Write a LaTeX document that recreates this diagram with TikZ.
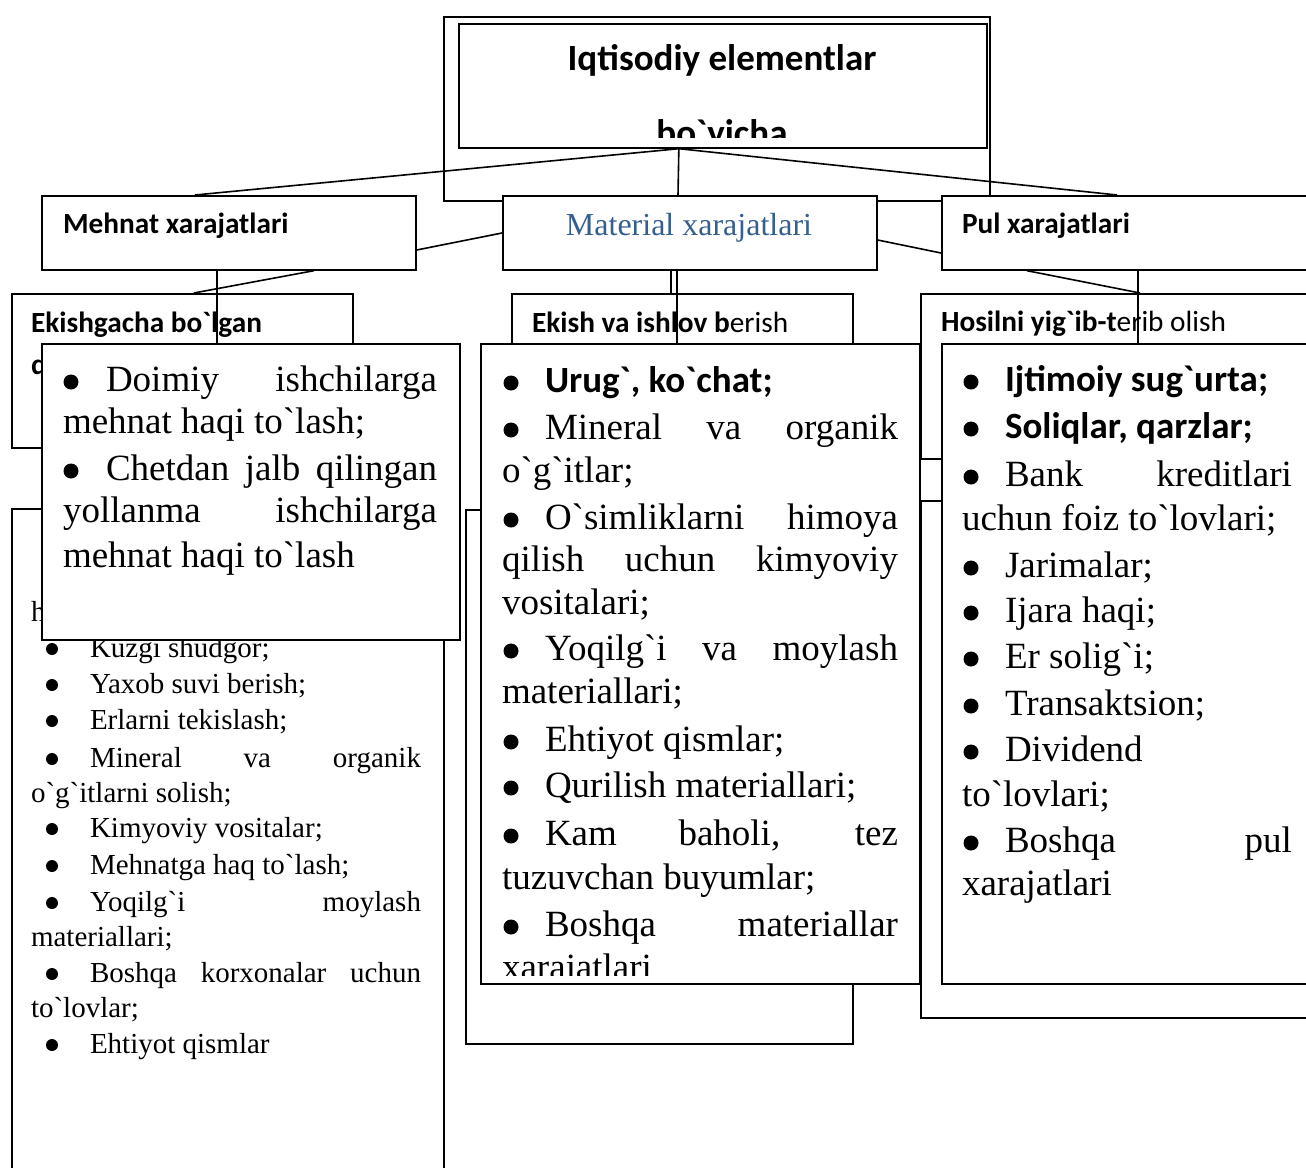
\documentclass[tikz,border=0pt]{standalone}
\usepackage{fontspec}
\newfontfamily\ser{Liberation Serif}
\newfontfamily\calib{Carlito}
\definecolor{matblue}{RGB}{54,95,145}
\newcommand\bx[5]{\node[box,minimum width=#4pt,minimum height=#5pt] (#1) at (#2,#3) {};}
\newcommand\tx[4]{\node[txt] (#1) at (#2,#3) {#4};}
\newcommand\bu[3]{\node[bigdot] (#1) at (#2,#3-9) {};}
\newcommand\bs[3]{\node[smalldot] (#1) at (#2,#3-8) {};}
\tikzset{
  box/.style={draw, line width=1.7pt, fill=white, inner sep=0pt, anchor=north west},
  txt/.style={anchor=base west, inner sep=0pt, outer sep=0pt},
  bigdot/.style={circle, fill=black, inner sep=0pt, minimum size=15pt},
  smalldot/.style={circle, fill=black, inner sep=0pt, minimum size=12pt},
  conn/.style={line width=1.6pt},
  sbig/.style={font=\ser\fontsize{37}{44}\selectfont},
  ssmall/.style={font=\ser\fontsize{29}{36}\selectfont},
  hbold/.style={font=\calib\bfseries\fontsize{29.3}{34}\selectfont},
}
\begin{document}
\begin{tikzpicture}[x=1pt,y=-1pt]
\useasboundingbox (0,0) rectangle (1306,1167);
\clip (0,0) rectangle (1306,1167);
\fill[white] (0,0) rectangle (1306,1167);
% top boxes
\bx{outer}{443}{16}{546}{184}
\bx{title}{458}{23}{528}{124}
\begin{scope}
\clip (458,23) rectangle (986,137);
\node[anchor=base, inner sep=0pt, font=\calib\bfseries\fontsize{37}{44}\selectfont] (t1) at (722,70) {Iqtisodiy elementlar};
\node[anchor=base, inner sep=0pt, font=\calib\bfseries\fontsize{37}{44}\selectfont] (t2) at (722,145) {bo`yicha};
\end{scope}
\coordinate (hub) at ([xshift=-44pt]title.south);
\draw[conn] (hub) -- (195,195) coordinate (mehnatTop);
\draw[conn] (hub) -- (678,195) coordinate (materialTop);
\draw[conn] (hub) -- (1117,195) coordinate (pulTop);
% level 2
\bx{mehnat}{41}{195}{374}{74}
\bx{material}{502}{195}{374}{74}
\bx{pul}{941}{195}{420}{74}
\node[txt,hbold] (mehnatT) at (63,233) {Mehnat xarajatlari};
\node[anchor=base, inner sep=0pt, font=\ser\fontsize{32}{38}\selectfont, text=matblue] (materialT) at (689,235) {Material xarajatlari};
\node[txt,hbold] (pulT) at (962,233) {Pul xarajatlari};
\draw[conn] (mehnat.east |- 0,250) -- (material.west |- 0,233);
\draw[conn] (material.east |- 0,240) -- (pul.west |- 0,253);
% ---------- left column
\bx{ekishgacha}{11}{293}{341}{154}
\node[txt,hbold] (ekgT) at (31,332) {Ekishgacha bo`lgan};
\node[txt,hbold] (ekgT2) at (31,374) {d};
\bx{lowleft}{11}{508}{432}{700}
\begin{scope}[every node/.append style={ssmall}]
\tx{llh}{31}{621}{h}
\bs{lb1}{52}{657}\tx{l1}{90}{657}{Kuzgi shudgor;}
\bs{lb2}{52}{693}\tx{l2}{90}{693}{Yaxob suvi berish;}
\bs{lb3}{52}{729}\tx{l3}{90}{729}{Erlarni tekislash;}
\bs{lb4}{52}{767}\tx{l4}{90}{767}{\makebox[331pt][s]{Mineral va organik}}
\tx{l5}{31}{802}{o`g`itlarni solish;}
\bs{lb6}{52}{837}\tx{l6}{90}{837}{Kimyoviy vositalar;}
\bs{lb7}{52}{874}\tx{l7}{90}{874}{Mehnatga haq to`lash;}
\bs{lb8}{52}{911}\tx{l8}{90}{911}{\makebox[331pt][s]{Yoqilg`i moylash}}
\tx{l9}{31}{946}{materiallari;}
\bs{lb10}{52}{982}\tx{l10}{90}{982}{\makebox[331pt][s]{Boshqa korxonalar uchun}}
\tx{l11}{31}{1017}{to`lovlar;}
\bs{lb12}{52}{1053}\tx{l12}{90}{1053}{Ehtiyot qismlar}
\end{scope}
\draw[conn] ([xshift=85pt]mehnat.south) -- ([xshift=11.5pt]ekishgacha.north);
\bx{doimiy}{41}{343}{418}{296}
\draw[conn] (mehnat.south -| 217,0) -- (doimiy.north -| 217,0);
\begin{scope}[every node/.append style={sbig}]
\bu{db1}{71}{391}\tx{d1}{106}{391}{\makebox[331pt][s]{Doimiy ishchilarga}}
\tx{d2}{63}{433}{mehnat haqi to`lash;}
\bu{db3}{71}{480}\tx{d3}{106}{480}{\makebox[331pt][s]{Chetdan jalb qilingan}}
\tx{d4}{63}{522}{\makebox[374pt][s]{yollanma ishchilarga}}
\tx{d5}{63}{567}{mehnat haqi to`lash}
\end{scope}
% ---------- middle column
\bx{ekish}{511}{293}{341}{165}
\node[txt,hbold] (ekT) at (532,332) {Ekish va ishlov b{\mdseries erish}};
\bx{lowmid}{465}{509}{387}{534}
\draw[conn] (material.south -| 671,0) -- (ekish.north -| 671,0);
\bx{urug}{480}{343}{439}{640}
\draw[conn] (material.south -| 677,0) -- (urug.north -| 677,0);
\begin{scope}[every node/.append style={sbig}]
\bu{ub1}{511}{392}\node[txt,font=\calib\bfseries\fontsize{37}{44}\selectfont] (u1) at (545,392) {Urug`, ko`chat;};
\bu{ub2}{511}{439}\tx{u2}{545}{439}{\makebox[353pt][s]{Mineral va organik}}
\tx{u3}{502}{482}{o`g`itlar;}
\bu{ub4}{511}{529}\tx{u4}{545}{529}{\makebox[353pt][s]{O`simliklarni himoya}}
\tx{u5}{502}{571}{\makebox[396pt][s]{qilish uchun kimyoviy}}
\tx{u6}{502}{614}{vositalari;}
\bu{ub7}{511}{660}\tx{u7}{545}{660}{\makebox[353pt][s]{Yoqilg`i va moylash}}
\tx{u8}{502}{703}{materiallari;}
\bu{ub9}{511}{751}\tx{u9}{545}{751}{Ehtiyot qismlar;}
\bu{ub10}{511}{797}\tx{u10}{545}{797}{Qurilish materiallari;}
\bu{ub11}{511}{845}\tx{u11}{545}{845}{\makebox[353pt][s]{Kam baholi, tez}}
\tx{u12}{502}{889}{tuzuvchan buyumlar;}
\bu{ub13}{511}{936}\tx{u13}{545}{936}{\makebox[353pt][s]{Boshqa materiallar}}
\begin{scope}
\clip (480,343) rectangle (919,975);
\tx{u14}{502}{979}{xarajatlari}
\end{scope}
\end{scope}
% ---------- right column
\bx{hosil}{920}{293}{420}{165}
\node[txt,hbold] (hoT) at (941,331) {Hosilni yig`ib-t{\mdseries erib olish}};
\bx{lowright}{920}{500}{420}{517}
\draw[conn] (pul.south -| 1027,0) -- (hosil.north -| 1140,0);
\bx{ijtim}{941}{343}{420}{640}
\draw[conn] (pul.south -| 1138,0) -- (ijtim.north -| 1138,0);
\begin{scope}[every node/.append style={sbig}]
\bu{rb1}{971}{391}\node[txt,font=\calib\bfseries\fontsize{37}{44}\selectfont] (r1) at (1005,391) {Ijtimoiy sug`urta;};
\bu{rb2}{971}{438}\node[txt,font=\calib\bfseries\fontsize{37}{44}\selectfont] (r2) at (1005,438) {Soliqlar, qarzlar;};
\bu{rb3}{971}{486}\tx{r3}{1005}{486}{\makebox[287pt][s]{Bank kreditlari}}
\tx{r4}{962}{530}{uchun foiz to`lovlari;}
\bu{rb5}{971}{577}\tx{r5}{1005}{577}{Jarimalar;}
\bu{rb6}{971}{622}\tx{r6}{1005}{622}{Ijara haqi;}
\bu{rb7}{971}{668}\tx{r7}{1005}{668}{Er solig`i;}
\bu{rb8}{971}{715}\tx{r8}{1005}{715}{Transaktsion;}
\bu{rb9}{971}{761}\tx{r9}{1005}{761}{Dividend}
\tx{r10}{962}{806}{to`lovlari;}
\bu{rb11}{971}{852}\tx{r11}{1005}{852}{\makebox[287pt][s]{Boshqa pul}}
\tx{r12}{962}{895}{xarajatlari}
\end{scope}
\end{tikzpicture}
\end{document}
